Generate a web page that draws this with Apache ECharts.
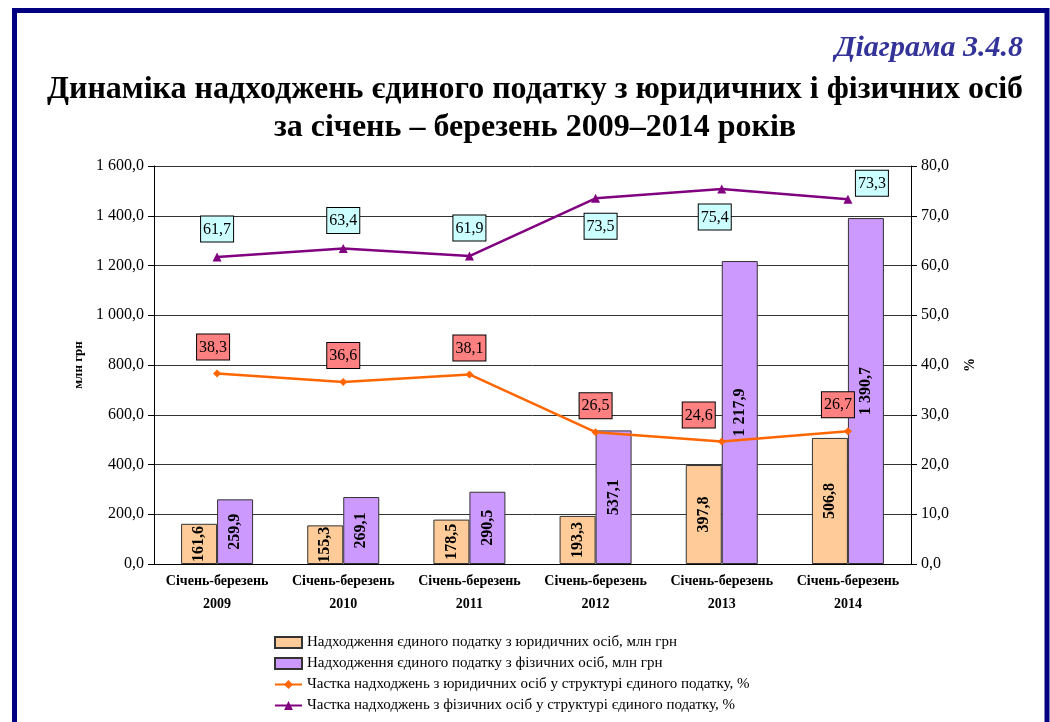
<!DOCTYPE html>
<html>
<head>
<meta charset="utf-8">
<script src="https://cdn.jsdelivr.net/npm/echarts@6/dist/echarts.min.js"></script>
<style>
html, body { margin: 0; padding: 0; background: #fff; }
#chart { width: 1050px; height: 722px; }
</style>
</head>
<body>
<div id="chart"></div>
<script>
// categories
var categories = ['Січень-березень\n2009', 'Січень-березень\n2010', 'Січень-березень\n2011',
                  'Січень-березень\n2012', 'Січень-березень\n2013', 'Січень-березень\n2014'];
// mln UAH
var legalSum = [161.6, 155.3, 178.5, 193.3, 397.8, 506.8];
var personSum = [259.9, 269.1, 290.5, 537.1, 1217.9, 1390.7];
// share, %
var legalShare = [38.3, 36.6, 38.1, 26.5, 24.6, 26.7];
var personShare = [61.7, 63.4, 61.9, 73.5, 75.4, 73.3];

var names = [
    'Надходження єдиного податку з юридичних осіб, млн грн',
    'Надходження єдиного податку з фізичних осіб, млн грн',
    'Частка надходжень з юридичних осіб у структурі єдиного податку, %',
    'Частка надходжень з фізичних осіб у структурі єдиного податку, %'
];

var serif = '"Liberation Serif", "DejaVu Serif", serif';

function fmt(v) {
    var s = v.toFixed(1).replace('.', ',');
    var parts = s.split(',');
    parts[0] = parts[0].replace(/\B(?=(\d{3})+(?!\d))/g, ' ');
    return parts.join(',');
}

// label placement tweaks for the line labels (like manual moves in the original)
function lineData(values, place) {
    return values.map(function (v, i) {
        var p = place[i] || {};
        return {
            value: v,
            label: { position: p.pos || 'top', offset: p.off || [0, 0] }
        };
    });
}

var myChart = echarts.init(document.getElementById('chart'));
var option = {
    animation: false,
    textStyle: { fontFamily: serif },
    graphic: [{
        type: 'rect',
        shape: { x: 14.5, y: 10.5, width: 1032.5, height: 800 },
        style: { fill: 'none', stroke: '#000080', lineWidth: 5 },
        silent: true
    }],
    title: [{
        text: 'Діаграма 3.4.8',
        right: 22,
        top: 28,
        textStyle: { fontFamily: serif, fontStyle: 'italic', fontWeight: 'bold', fontSize: 30, color: '#333399' }
    }, {
        text: 'Динаміка надходжень єдиного податку з юридичних і фізичних осіб\nза січень – березень 2009–2014 років',
        left: 530,
        textAlign: 'center',
        top: 66,
        textStyle: { fontFamily: serif, fontWeight: 'bold', fontSize: 32, lineHeight: 38, color: '#000' }
    }],
    legend: {
        orient: 'vertical',
        left: 269,
        top: 630,
        itemWidth: 27,
        itemHeight: 11,
        itemGap: 6,
        textStyle: { fontFamily: serif, fontSize: 15, color: '#000' },
        data: [
            { name: names[0], icon: 'rect' },
            { name: names[1], icon: 'rect' },
            { name: names[2] },
            { name: names[3] }
        ]
    },
    grid: { left: 154, right: 139, top: 166, bottom: 158 },
    xAxis: {
        type: 'category',
        data: categories,
        axisLine: { lineStyle: { color: '#000' } },
        axisTick: { alignWithLabel: false, length: 5, lineStyle: { color: '#000' } },
        axisLabel: { interval: 0, fontFamily: serif, fontWeight: 'bold', fontSize: 14, color: '#000', lineHeight: 23, margin: 6 }
    },
    yAxis: [{
        type: 'value',
        min: 0, max: 1600, interval: 200,
        name: 'млн грн',
        nameLocation: 'middle',
        nameGap: 68,
        nameRotate: 90,
        nameTextStyle: { fontFamily: serif, fontWeight: 'bold', fontSize: 13, color: '#000' },
        axisLine: { show: true, lineStyle: { color: '#000' } },
        axisTick: { show: true, length: 6, lineStyle: { color: '#000' } },
        axisLabel: { fontFamily: serif, fontSize: 16, color: '#000', margin: 10, formatter: fmt },
        splitLine: { lineStyle: { color: '#333', width: 1 } }
    }, {
        type: 'value',
        min: 0, max: 80, interval: 10,
        name: '%',
        nameLocation: 'middle',
        nameGap: 52,
        nameRotate: 90,
        nameTextStyle: { fontFamily: serif, fontWeight: 'bold', fontSize: 14, color: '#000' },
        axisLine: { show: true, lineStyle: { color: '#000' } },
        axisTick: { show: true, length: 6, lineStyle: { color: '#000' } },
        axisLabel: { fontFamily: serif, fontSize: 16, color: '#000', margin: 10, formatter: fmt },
        splitLine: { show: false }
    }],
    series: [{
        name: names[0],
        type: 'bar',
        data: legalSum,
        barWidth: 36,
        barGap: '0%',
        itemStyle: { color: '#FFCC99', borderColor: '#333', borderWidth: 1 },
        label: {
            show: true, position: 'inside', rotate: 90,
            fontFamily: serif, fontWeight: 'bold', fontSize: 16, color: '#000',
            formatter: function (p) { return fmt(p.value); }
        },
        z: 2
    }, {
        name: names[1],
        type: 'bar',
        data: personSum,
        barWidth: 36,
        itemStyle: { color: '#CC99FF', borderColor: '#333', borderWidth: 1 },
        label: {
            show: true, position: 'inside', rotate: 90,
            fontFamily: serif, fontWeight: 'bold', fontSize: 16, color: '#000',
            formatter: function (p) { return fmt(p.value); }
        },
        z: 2
    }, {
        name: names[2],
        type: 'line',
        yAxisIndex: 1,
        data: lineData(legalShare, { 0: { off: [-4, 0] }, 4: { off: [-23, 0] }, 5: { off: [-10, 0] } }),
        symbol: 'diamond',
        symbolSize: 8,
        lineStyle: { color: '#FF6600', width: 2.5 },
        itemStyle: { color: '#FF6600' },
        label: {
            show: true, distance: 10,
            fontFamily: serif, fontSize: 16, color: '#000',
            backgroundColor: '#FF8080', borderColor: '#000', borderWidth: 1,
            padding: [5, 2, 4, 2],
            formatter: function (p) { return fmt(p.value); }
        },
        z: 5
    }, {
        name: names[3],
        type: 'line',
        yAxisIndex: 1,
        data: lineData(personShare, {
            3: { pos: 'bottom', off: [5, 0] },
            4: { pos: 'bottom', off: [-7, 0] },
            5: { off: [24, 12] }
        }),
        symbol: 'triangle',
        symbolSize: 9,
        lineStyle: { color: '#800080', width: 2.5 },
        itemStyle: { color: '#800080' },
        label: {
            show: true, distance: 11,
            fontFamily: serif, fontSize: 16, color: '#000',
            backgroundColor: '#CCFFFF', borderColor: '#000', borderWidth: 1,
            padding: [5, 2, 4, 2],
            formatter: function (p) { return fmt(p.value); }
        },
        z: 5
    }]
};
myChart.setOption(option);
</script>
</body>
</html>
